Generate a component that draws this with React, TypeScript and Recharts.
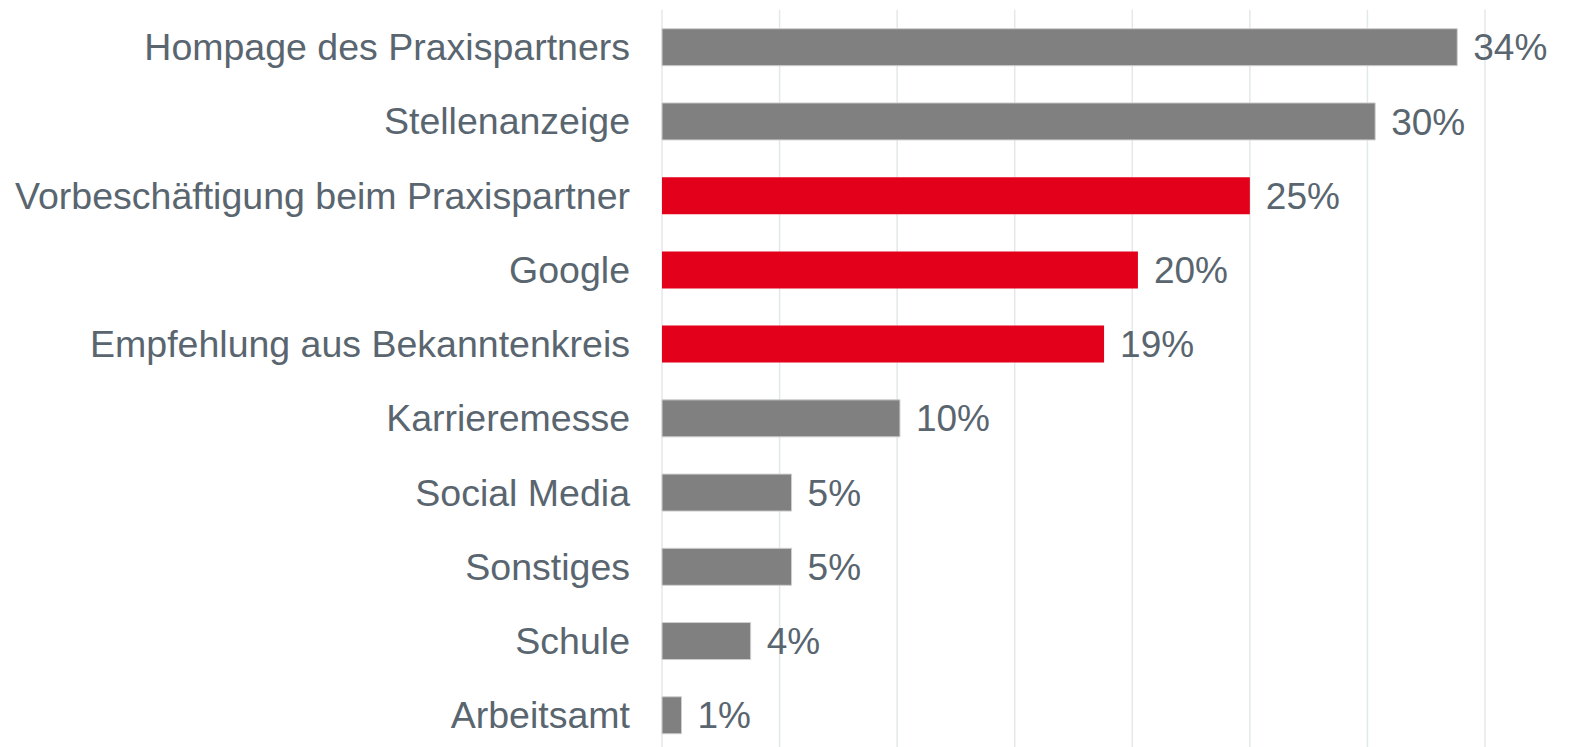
import React from "react";
import { BarChart, Bar, XAxis, YAxis, CartesianGrid, LabelList, Cell } from "recharts";

const categories = [
  "Hompage des Praxispartners",
  "Stellenanzeige",
  "Vorbeschäftigung beim Praxispartner",
  "Google",
  "Empfehlung aus Bekanntenkreis",
  "Karrieremesse",
  "Social Media",
  "Sonstiges",
  "Schule",
  "Arbeitsamt",
];
const values = [33.82, 30.33, 25.0, 20.24, 18.8, 10.12, 5.51, 5.51, 3.77, 0.83];
const valueLabels = ["34%", "30%", "25%", "20%", "19%", "10%", "5%", "5%", "4%", "1%"];
const highlighted = [false, false, true, true, true, false, false, false, false, false];
const xTicks = [0, 5, 10, 15, 20, 25, 30, 35];

const GREY = "#808080";
const RED = "#e2001a";
const TEXT = "#59656f";
const FONT = "'Liberation Sans', Arial, sans-serif";

const data = categories.map((name, i) => ({
  name,
  value: values[i],
  label: valueLabels[i],
  hi: highlighted[i],
}));

export default function App() {
  return (
    <div
      style={{
        position: "fixed",
        left: 0,
        top: 0,
        width: 1584,
        height: 747,
        overflow: "hidden",
        background: "#ffffff",
      }}
    >
      <BarChart
        width={1584}
        height={752}
        data={data}
        layout="vertical"
        margin={{ top: 9.7, right: 99, bottom: 0, left: 0 }}
      >
        <CartesianGrid horizontal={false} stroke="#e3e8e9" strokeWidth={1.5} />
        <XAxis type="number" domain={[0, 35]} ticks={xTicks} hide />
        <YAxis
          type="category"
          dataKey="name"
          width={662}
          tickLine={false}
          axisLine={false}
          tickSize={0}
          tickMargin={32}
          interval={0}
          tick={{ fill: TEXT, fontSize: 37.5, fontFamily: FONT }}
        />
        <Bar dataKey="value" barSize={37} isAnimationActive={false}>
          {data.map((d, i) => (
            <Cell
              key={i}
              fill={d.hi ? RED : GREY}
              stroke={d.hi ? "none" : "#cfcfcf"}
              strokeWidth={d.hi ? 0 : 1}
            />
          ))}
          <LabelList
            dataKey="label"
            position="right"
            offset={16}
            fill={TEXT}
            fontSize={37}
            fontFamily={FONT}
          />
        </Bar>
      </BarChart>
    </div>
  );
}
